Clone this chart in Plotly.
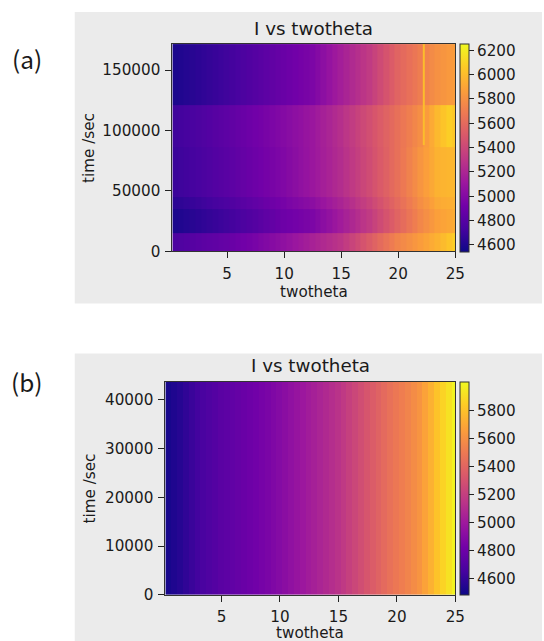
import plotly.graph_objects as go

# ---------------- data ----------------
twotheta = [0.45, 0.95, 1.45, 1.95, 2.45, 2.95, 3.45, 3.95, 4.45, 4.95,
            5.45, 5.95, 6.45, 6.95, 7.45, 7.95, 8.45, 8.95, 9.45, 9.95,
            10.45, 10.95, 11.45, 11.95, 12.45, 12.95, 13.45, 13.95, 14.45, 14.95,
            15.45, 15.95, 16.45, 16.95, 17.45, 17.95, 18.45, 18.95, 19.45, 19.95,
            20.45, 20.95, 21.45, 21.95, 22.45, 22.95, 23.45, 23.95, 24.45, 24.95]

# panel (a): time bins (edges, s)
time_edges_a = [0, 15000, 35000, 45000, 86000, 121000, 171600]

I_a_0_15k = [4761, 4774, 4787, 4800, 4813, 4823, 4833, 4844, 4854, 4864,
             4880, 4897, 4914, 4931, 4948, 4969, 4989, 5010, 5030, 5051,
             5075, 5099, 5123, 5147, 5171, 5194, 5218, 5242, 5266, 5290,
             5332, 5377, 5421, 5466, 5511, 5555, 5599, 5644, 5689, 5733,
             5764, 5794, 5824, 5854, 5888, 5922, 5956, 5995, 6035, 6075]
I_a_15_35k = [4590, 4603, 4616, 4629, 4642, 4655, 4669, 4682, 4696, 4710,
              4726, 4744, 4761, 4778, 4796, 4815, 4836, 4856, 4877, 4897,
              4911, 4925, 4939, 4953, 4967, 4999, 5033, 5067, 5101, 5136,
              5173, 5210, 5248, 5286, 5323, 5370, 5418, 5466, 5513, 5561,
              5608, 5655, 5702, 5749, 5790, 5830, 5870, 5889, 5906, 5923]
I_a_35_45k = [4642, 4654, 4667, 4680, 4693, 4706, 4720, 4734, 4748, 4762,
              4778, 4795, 4812, 4829, 4847, 4865, 4884, 4903, 4922, 4940,
              4959, 4978, 4997, 5016, 5034, 5064, 5095, 5125, 5156, 5187,
              5224, 5261, 5299, 5337, 5374, 5418, 5463, 5507, 5551, 5596,
              5643, 5690, 5737, 5784, 5827, 5870, 5912, 5927, 5938, 5949]
I_a_45_86k = [4693, 4705, 4718, 4731, 4744, 4757, 4771, 4785, 4799, 4813,
              4829, 4846, 4863, 4880, 4897, 4914, 4932, 4949, 4966, 4983,
              5006, 5030, 5054, 5078, 5101, 5129, 5156, 5183, 5211, 5238,
              5275, 5312, 5350, 5388, 5425, 5466, 5507, 5548, 5589, 5630,
              5677, 5724, 5771, 5818, 5864, 5909, 5954, 5964, 5970, 5975]
I_a_86_121k = [4710, 4722, 4735, 4748, 4761, 4774, 4788, 4802, 4816, 4830,
               4846, 4863, 4880, 4897, 4914, 4931, 4949, 4966, 4983, 5000,
               5020, 5041, 5061, 5082, 5102, 5132, 5163, 5193, 5224, 5255,
               5292, 5329, 5367, 5405, 5442, 5480, 5517, 5555, 5593, 5630,
               5669, 5707, 5746, 5784, 5850, 5918, 5987, 6032, 6075, 6048]
I_a_121_172k = [4590, 4603, 4616, 4629, 4642, 4655, 4669, 4682, 4696, 4710,
                4726, 4744, 4761, 4778, 4796, 4812, 4829, 4846, 4863, 4880,
                4897, 4915, 4932, 4949, 4966, 5002, 5039, 5077, 5115, 5152,
                5187, 5221, 5255, 5289, 5324, 5370, 5418, 5466, 5513, 5561,
                5597, 5631, 5665, 5700, 5734, 5768, 5802, 5821, 5838, 5855]

I_a = [I_a_0_15k, I_a_15_35k, I_a_35_45k, I_a_45_86k, I_a_86_121k, I_a_121_172k]

# narrow bright streak in panel (a)
spike_twotheta_edges = [22.15, 22.35]
spike_time_edges = [88000, 171600]
spike_I = [[6000]]

# panel (b)
time_edges_b = [0, 43700]
I_b_row = [4520, 4540, 4560, 4590, 4620, 4645, 4670, 4690, 4710, 4730,
           4745, 4760, 4775, 4790, 4805, 4822, 4840, 4858, 4877, 4897,
           4920, 4945, 4970, 4995, 5018, 5040, 5065, 5090, 5115, 5140,
           5175, 5210, 5245, 5282, 5320, 5355, 5390, 5425, 5458, 5490,
           5520, 5550, 5585, 5620, 5680, 5740, 5810, 5870, 5925, 5985]
I_b = [I_b_row]

xticks = [5, 10, 15, 20, 25]
yticks_a = [0, 50000, 100000, 150000]
yticks_b = [0, 10000, 20000, 30000, 40000]
cbar_a_ticks = [4600, 4800, 5000, 5200, 5400, 5600, 5800, 6000, 6200]
cbar_b_ticks = [4600, 4800, 5000, 5200, 5400, 5600, 5800]

# ---------------- figure ----------------
# reference layout measured on a 544x641 canvas; the captured area is slightly
# larger, so the figure is drawn at that size and everything scaled with it
RW, RH = 544, 641
W, H = 552, 651
S = W / RW
FONT = "DejaVu Sans"
TXT = "#1a1a1a"


def px(x):
    return x / RW


def py(y):
    return 1 - y / RH


def fs(v):
    return round(v * S, 1)


fig = go.Figure()

fig.add_trace(go.Heatmap(x=twotheta, y=time_edges_a, z=I_a, coloraxis="coloraxis",
                         xaxis="x", yaxis="y", hoverinfo="skip"))
fig.add_trace(go.Heatmap(x=spike_twotheta_edges, y=spike_time_edges, z=spike_I,
                         coloraxis="coloraxis", xaxis="x", yaxis="y", hoverinfo="skip"))
fig.add_trace(go.Heatmap(x=twotheta, y=time_edges_b, z=I_b, coloraxis="coloraxis2",
                         xaxis="x2", yaxis="y2", hoverinfo="skip"))

axis_common = dict(showline=True, linecolor="#333333", linewidth=1, mirror=True,
                   ticks="outside", ticklen=6, tickwidth=1, tickcolor="#222222",
                   showgrid=False, zeroline=False,
                   tickfont=dict(family=FONT, size=fs(15), color=TXT))

cbar_common = dict(thickness=fs(9), lenmode="fraction", xanchor="left", yanchor="middle",
                   outlinewidth=1, outlinecolor="#333333", ticks="outside", ticklen=5,
                   tickcolor="#222222", tickfont=dict(family=FONT, size=fs(15), color=TXT),
                   xpad=0, ypad=0)


def label(text, x, y, size=15, family=FONT, angle=0):
    return dict(text=text, xref="paper", yref="paper", x=px(x), y=py(y),
                xanchor="center", yanchor="middle", showarrow=False, textangle=angle,
                font=dict(family=family, size=fs(size), color=TXT))


fig.update_layout(
    width=W, height=H,
    margin=dict(l=0, r=0, t=0, b=0),
    paper_bgcolor="white",
    plot_bgcolor="#ebebeb",
    showlegend=False,
    xaxis=dict(domain=[px(173), px(457)], anchor="y", range=[0.2, 25], tickvals=xticks,
               ticklabelstandoff=2, **axis_common),
    yaxis=dict(domain=[py(251), py(44)], anchor="x", range=[0, 171600],
               tickvals=yticks_a, tickformat="d", ticklabelstandoff=2, **axis_common),
    xaxis2=dict(domain=[px(166), px(457)], anchor="y2", range=[0.2, 25], tickvals=xticks,
                ticklabelstandoff=2, **axis_common),
    yaxis2=dict(domain=[py(594), py(381)], anchor="x2", range=[0, 43700],
                tickvals=yticks_b, tickformat="d", ticklabelstandoff=2, **axis_common),
    coloraxis=dict(colorscale="Plasma", cmin=4540, cmax=6250,
                   colorbar=dict(x=px(462), y=py(148), len=208 / RH, tickvals=cbar_a_ticks,
                                 **cbar_common)),
    coloraxis2=dict(colorscale="Plasma", cmin=4486, cmax=6007,
                    colorbar=dict(x=px(462), y=py(487.5), len=213 / RH, tickvals=cbar_b_ticks,
                                  **cbar_common)),
    shapes=[
        dict(type="rect", xref="paper", yref="paper", x0=px(75), x1=1.0, y0=py(303), y1=py(12),
             fillcolor="#ebebeb", line=dict(width=0), layer="below"),
        dict(type="rect", xref="paper", yref="paper", x0=px(75), x1=1.0, y0=0.0, y1=py(353),
             fillcolor="#ebebeb", line=dict(width=0), layer="below"),
    ],
    annotations=[
        label("I vs twotheta", 315, 28, size=18),
        label("I vs twotheta", 311.5, 365, size=18),
        label("twotheta", 315, 292),
        label("twotheta", 311.5, 632),
        label("time /sec", 90, 148, angle=-90),
        label("time /sec", 90, 488, angle=-90),
        label("(a)", 27, 58, size=24, family="Noto Sans CJK JP"),
        label("(b)", 27, 381, size=24, family="Noto Sans CJK JP"),
    ],
)

# the default page body has an 8px margin; remove it so the figure fills the window
fig.write_html("out.html", config={"displayModeBar": False},
               post_script="document.body.style.margin='0px';")
